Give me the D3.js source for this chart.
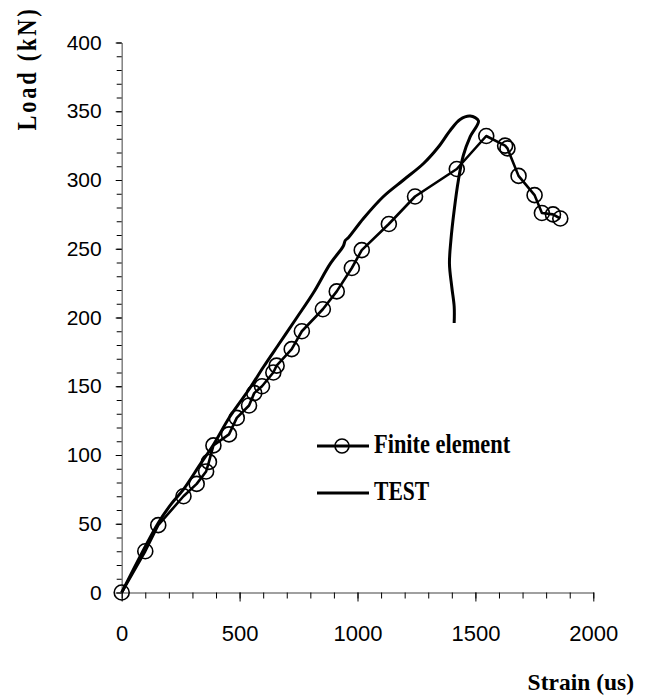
<!DOCTYPE html>
<html>
  <head>
    <meta http-equiv="Content-Type" content="text/html;charset=utf-8" />
    <title>Load - Strain</title>
    <style>
      body {
        margin: 0;
        background: #fff;
        font-family: "Liberation Sans", Arial, sans-serif;
      }
      .axis path.domain {
        stroke: #808080;
        stroke-width: 1.5px;
      }
      .axis line {
        stroke: #000;
        stroke-width: 1px;
      }
      .axis text {
        font-family: "Liberation Sans", Arial, sans-serif;
        font-size: 21px;
        fill: #000;
      }
      .xaxis text {
        font-size: 22px;
      }
      .serif {
        font-family: "Liberation Serif", "Times New Roman", serif;
        font-weight: bold;
        fill: #000;
      }
    </style>
    <script src="https://d3js.org/d3.v7.min.js"></script>
  </head>
  <body>
    <div id="chart"></div>
    <script type="text/javascript">
      // finite element results (strain in us, load in kN)
      const feStrain = [0, 100, 155, 262, 318, 358, 370, 389, 455, 488, 540, 562, 595, 643, 657,
        721, 764, 853, 912, 976, 1018, 1133, 1244, 1421, 1546, 1626, 1636, 1683, 1751, 1782, 1829, 1860];
      const feLoad = [0, 30, 49, 70, 79, 88, 95, 107, 115, 127, 136, 145, 150, 160, 165,
        177, 190, 206, 219, 236, 249, 268, 288, 308, 332, 325, 323, 303, 289, 276, 275, 272];

      // test curve, traced
      const testStrain = [0, 155, 212, 262, 332, 389, 459, 544, 601, 672, 743, 813, 884, 940, 948, 961,
        1025, 1110, 1195, 1280, 1343, 1393, 1435, 1478, 1513, 1478, 1449, 1428, 1410, 1396, 1390,
        1400, 1410, 1410];
      const testLoad = [0, 50.6, 64.8, 75, 93, 107.5, 128, 148.7, 164, 182, 200, 218, 239, 252, 256, 258,
        272, 288, 300, 312, 324, 336, 344, 346.5, 343, 331.5, 318, 300, 278, 256, 239,
        222, 208, 196];

      const xTicks = [0, 500, 1000, 1500, 2000];
      const yTicks = [0, 50, 100, 150, 200, 250, 300, 350, 400];

      const width = 646,
        height = 695;
      const margin = { top: 42.5, right: 52.7, bottom: 102.5, left: 121.7 };

      const svg = d3
        .select("#chart")
        .append("svg")
        .attr("width", width)
        .attr("height", height);

      const x = d3
        .scaleLinear()
        .domain([0, 2000])
        .range([margin.left, width - margin.right]);
      const y = d3
        .scaleLinear()
        .domain([0, 400])
        .range([height - margin.bottom, margin.top]);

      //-- axes: minor ticks first, then labelled ones
      svg
        .append("g")
        .attr("class", "axis")
        .attr("transform", "translate(0," + y(0) + ")")
        .call(d3.axisBottom(x).tickValues(d3.range(0, 2001, 100)).tickSize(6).tickSizeOuter(0).tickFormat(""));
      svg
        .append("g")
        .attr("class", "axis xaxis")
        .attr("transform", "translate(0," + y(0) + ")")
        .call(d3.axisBottom(x).tickValues(xTicks).tickSize(9).tickSizeOuter(0).tickPadding(24).tickFormat(d3.format("d")))
        .select(".domain")
        .remove();

      svg
        .append("g")
        .attr("class", "axis")
        .attr("transform", "translate(" + x(0) + ",0)")
        .call(d3.axisLeft(y).tickValues(d3.range(0, 401, 10)).tickSize(5).tickSizeOuter(0).tickFormat(""));
      svg
        .append("g")
        .attr("class", "axis")
        .attr("transform", "translate(" + x(0) + ",0)")
        .call(d3.axisLeft(y).tickValues(yTicks).tickSize(6).tickSizeOuter(0).tickPadding(14).tickFormat(d3.format("d")))
        .select(".domain")
        .remove();

      //-- axis titles
      svg
        .append("text")
        .attr("class", "serif")
        .attr("transform", "translate(36,68.5) rotate(-90) scale(0.8,1)")
        .attr("text-anchor", "middle")
        .style("font-size", "28px")
        .style("letter-spacing", "3.5px")
        .text("Load (kN)");

      svg
        .append("text")
        .attr("class", "serif")
        .attr("x", 634)
        .attr("y", 690)
        .attr("text-anchor", "end")
        .style("font-size", "23.5px")
        .text("Strain (us)");

      //-- series
      const feLine = d3
        .line()
        .x(function (d, i) { return x(feStrain[i]); })
        .y(function (d, i) { return y(feLoad[i]); });

      const testLine = d3
        .line()
        .curve(d3.curveCatmullRom)
        .x(function (d, i) { return x(testStrain[i]); })
        .y(function (d, i) { return y(testLoad[i]); });

      svg
        .append("path")
        .datum(testStrain)
        .attr("d", testLine)
        .style("fill", "none")
        .style("stroke", "#000")
        .style("stroke-width", "3px")
        .style("stroke-linejoin", "round");

      svg
        .append("path")
        .datum(feStrain)
        .attr("d", feLine)
        .style("fill", "none")
        .style("stroke", "#000")
        .style("stroke-width", "2.6px")
        .style("stroke-linejoin", "round");

      svg
        .selectAll("circle.fe")
        .data(feStrain)
        .enter()
        .append("circle")
        .attr("class", "fe")
        .attr("cx", function (d) { return x(d); })
        .attr("cy", function (d, i) { return y(feLoad[i]); })
        .attr("r", 7.5)
        .style("fill", "none")
        .style("stroke", "#000")
        .style("stroke-width", "1.6px");

      //-- legend
      const legend = svg.append("g").attr("transform", "translate(317,446)");
      legend.append("line").attr("x1", 0).attr("x2", 52).attr("y1", 0).attr("y2", 0)
        .style("stroke", "#000").style("stroke-width", "3px");
      legend.append("circle").attr("cx", 25).attr("cy", 0).attr("r", 7)
        .style("fill", "none").style("stroke", "#000").style("stroke-width", "1.6px");
      legend.append("text").attr("class", "serif")
        .attr("transform", "translate(57,7) scale(0.83,1)")
        .style("font-size", "27px")
        .text("Finite element");

      legend.append("line").attr("x1", 0).attr("x2", 52).attr("y1", 47).attr("y2", 47)
        .style("stroke", "#000").style("stroke-width", "3px");
      legend.append("text").attr("class", "serif")
        .attr("transform", "translate(57,54) scale(0.8,1)")
        .style("font-size", "27px")
        .text("TEST");
    </script>
  </body>
</html>
